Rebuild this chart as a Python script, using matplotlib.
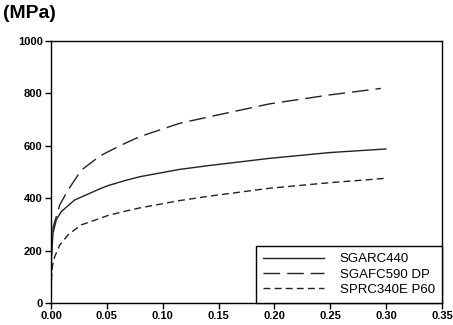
import matplotlib
matplotlib.use("Agg")
import matplotlib.pyplot as plt
import numpy as np

plt.rcParams['font.family'] = ['Liberation Sans', 'DejaVu Sans']

# strain / stress values
strain_sgarc = [0.0, 0.0005, 0.0018, 0.0047, 0.0092, 0.0211, 0.0438, 0.0509, 0.066,
                0.0795, 0.1152, 0.142, 0.1955, 0.249, 0.2997]
stress_sgarc = [0, 200, 267, 317, 349, 393, 436, 448, 467,
                482, 510, 525, 552, 574, 588]

strain_sgafc = [0.0, 0.0005, 0.002, 0.0047, 0.0078, 0.0152, 0.0271, 0.0438, 0.0509,
                0.066, 0.0795, 0.1152, 0.142, 0.1955, 0.249, 0.2953]
stress_sgafc = [0, 180, 290, 329, 374, 431, 507, 561, 577,
                609, 635, 686, 711, 760, 794, 819]

strain_sprc = [0.0, 0.0005, 0.0012, 0.0033, 0.0078, 0.0152, 0.027, 0.0438, 0.0509,
               0.066, 0.0795, 0.1152, 0.142, 0.1955, 0.249, 0.2997]
stress_sprc = [0, 100, 139, 177, 221, 260, 298, 323, 334,
               350, 363, 391, 408, 438, 459, 476]

labels = ['SGARC440', 'SGAFC590 DP', 'SPRC340E P60']
x_ticks = [0.00, 0.05, 0.10, 0.15, 0.20, 0.25, 0.30, 0.35]
y_ticks = [0, 200, 400, 600, 800, 1000]

fig = plt.figure(figsize=(4.53, 3.25), dpi=100)
ax = fig.add_axes([0.1126, 0.0677, 0.8631, 0.8061])

ax.plot(strain_sgarc, stress_sgarc, color='#222222', lw=1.0, label=labels[0])
ax.plot(strain_sgafc, stress_sgafc, color='#222222', lw=1.0, dashes=(12, 5), label=labels[1])
ax.plot(strain_sprc, stress_sprc, color='#222222', lw=1.0, dashes=(5, 3), label=labels[2])

ax.set_xlim(0, 0.35)
ax.set_ylim(0, 1000)
ax.set_xticks(x_ticks)
ax.set_xticklabels(['%.2f' % v for v in x_ticks])
ax.set_yticks(y_ticks)
ax.tick_params(direction='out', length=4, width=1, labelsize=8, pad=2)
for lab in ax.get_xticklabels() + ax.get_yticklabels():
    lab.set_fontweight('bold')
for s in ax.spines.values():
    s.set_linewidth(1.0)

leg = ax.legend(loc='lower right', bbox_to_anchor=(1, 0), borderaxespad=0,
                fancybox=False, edgecolor='black', framealpha=1, fontsize=9.5,
                handlelength=4.6, handletextpad=1.2, labelspacing=0.22,
                borderpad=0.55)
leg.get_frame().set_linewidth(1.0)

fig.text(0.006, 0.985, '(MPa)', fontsize=14, fontweight='bold', va='top', ha='left')

fig.savefig('out.png', dpi=100)
